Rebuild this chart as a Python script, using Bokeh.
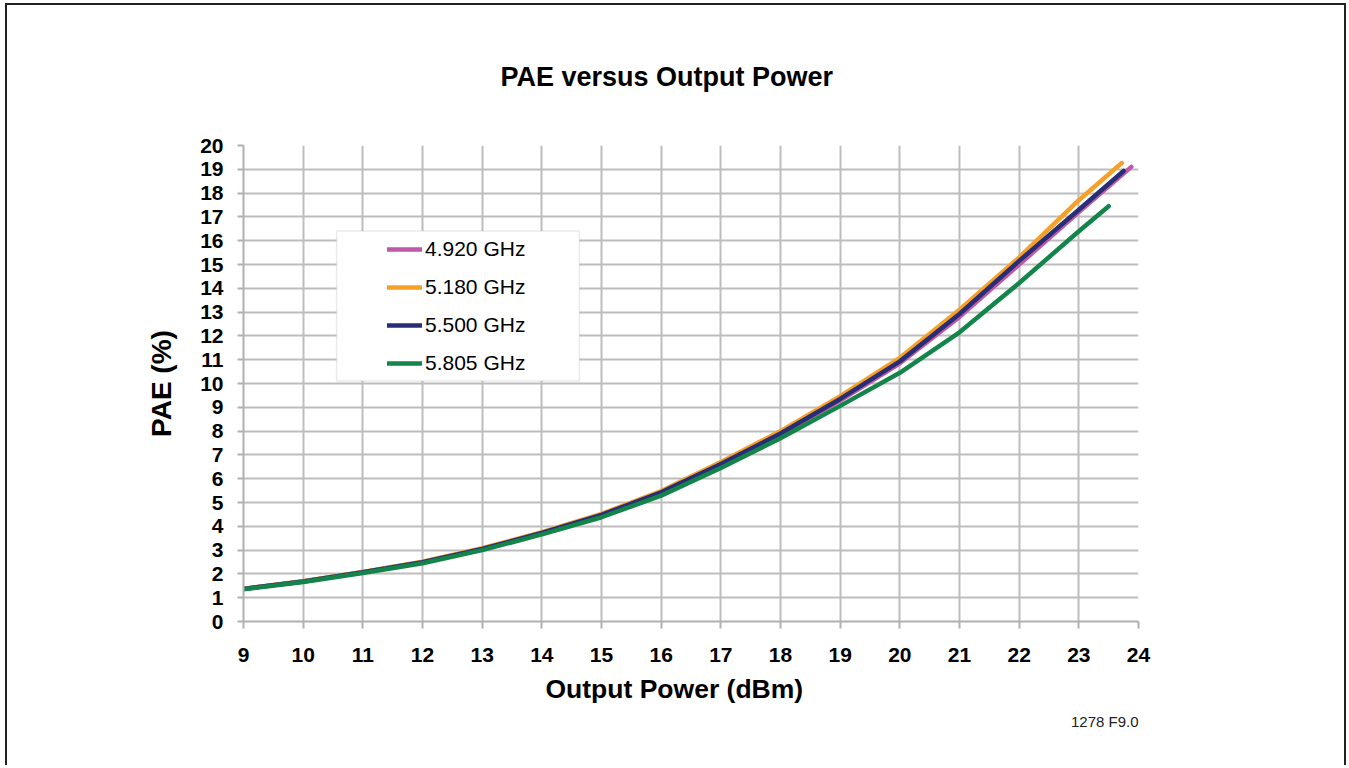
from bokeh.plotting import figure
from bokeh.models import (Legend, LegendItem, BoxAnnotation, FixedTicker,
                          Range1d, Title)
from bokeh.embed import file_html
from bokeh.resources import INLINE

# ---- data ----
x_pts = [9, 10, 11, 12, 13, 14, 15, 16, 17, 18, 19, 20, 21, 22, 23]

pae_4920 = [1.37, 1.68, 2.07, 2.49, 3.05, 3.71, 4.47, 5.41, 6.58, 7.86, 9.28, 10.85, 12.80, 15.00, 17.20]
end_4920 = (23.88, 19.10)

pae_5180 = [1.37, 1.69, 2.08, 2.51, 3.08, 3.75, 4.52, 5.48, 6.70, 8.00, 9.47, 11.08, 13.10, 15.30, 17.70]
end_5180 = (23.72, 19.27)

pae_5500 = [1.37, 1.68, 2.07, 2.49, 3.05, 3.72, 4.48, 5.43, 6.62, 7.90, 9.35, 10.93, 12.92, 15.15, 17.30]
end_5500 = (23.75, 18.93)

pae_5805 = [1.35, 1.66, 2.04, 2.45, 3.00, 3.66, 4.38, 5.29, 6.45, 7.70, 9.06, 10.45, 12.15, 14.22, 16.40]
end_5805 = (23.50, 17.45)

series_names = ["4.920 GHz", "5.180 GHz", "5.500 GHz", "5.805 GHz"]
series_vals = [pae_4920, pae_5180, pae_5500, pae_5805]
series_ends = [end_4920, end_5180, end_5500, end_5805]
series_colors = ["#c058a8", "#f7a028", "#272e76", "#14854a"]

x_ticks = list(range(9, 25))
y_ticks = list(range(0, 21))

FONT = "Liberation Sans"

p = figure(width=1341, height=762, output_backend="svg", toolbar_location=None,
           x_range=Range1d(9, 24), y_range=Range1d(0, 20),
           min_border_left=236, min_border_right=210,
           min_border_top=140, min_border_bottom=146)
p.styles = {"border-top": "2px solid #222222", "border-left": "2px solid #222222",
            "border-right": "2px solid #222222",
            "margin-left": "5px", "margin-top": "3px"}
p.background_fill_color = "white"
p.border_fill_color = "white"
p.outline_line_color = None

# title
p.title = Title(text="PAE versus Output Power", align="left", offset=257,
                standoff=108, text_font=FONT, text_font_style="bold",
                text_font_size="27px", text_color="black")

# grid
for g in (p.xgrid, p.ygrid):
    g.grid_line_color = "#bdbdbd"
    g.grid_line_width = 2
p.xgrid.ticker = FixedTicker(ticks=x_ticks)
p.ygrid.ticker = FixedTicker(ticks=y_ticks)

# axes
for ax in (p.xaxis, p.yaxis):
    ax.axis_line_color = "#b0b0b0"
    ax.axis_line_width = 2
    ax.major_tick_line_color = "#b0b0b0"
    ax.major_tick_line_width = 2
    ax.major_tick_in = 0
    ax.minor_tick_line_color = None
    ax.major_label_text_font = FONT
    ax.major_label_text_font_style = "bold"
    ax.major_label_text_font_size = "21px"
    ax.major_label_text_color = "black"
p.xaxis.ticker = FixedTicker(ticks=x_ticks)
p.yaxis.ticker = FixedTicker(ticks=y_ticks)
p.xaxis.major_tick_out = 7
p.yaxis.major_tick_out = 6
p.xaxis.major_label_standoff = 19
p.yaxis.major_label_standoff = 14

p.yaxis.axis_label = "PAE (%)"
p.yaxis.axis_label_text_font = FONT
p.yaxis.axis_label_text_font_style = "bold"
p.yaxis.axis_label_text_font_size = "28px"
p.yaxis.axis_label_text_color = "black"
p.yaxis.axis_label_standoff = 20

# x axis label and figure code, as titles below the axis
p.add_layout(Title(text="Output Power (dBm)", align="left", offset=302,
                   standoff=14, text_font=FONT, text_font_style="bold",
                   text_font_size="26.5px", text_color="black"), "below")
p.add_layout(Title(text="1278 F9.0", align="right", offset=0,
                   standoff=0, text_font=FONT, text_font_style="normal",
                   text_font_size="15px", text_color="#222222"), "below")

# legend background box
p.add_layout(BoxAnnotation(left=10.56, right=14.63, bottom=10.11, top=16.41,
                           fill_color="white", fill_alpha=1.0,
                           line_color="#b8b8b8", line_width=1.5, level="guide"))

items = []
for name, vals, end, col in zip(series_names, series_vals, series_ends, series_colors):
    xs = x_pts + [end[0]]
    ys = vals + [end[1]]
    r = p.line(xs, ys, line_color=col, line_width=4.5, line_cap="round", line_join="round")
    items.append(LegendItem(label=name, renderers=[r]))

legend = Legend(items=items, location=(144, 246), orientation="vertical",
                padding=0, margin=0, spacing=14,
                glyph_width=35, glyph_height=20, label_height=20, label_standoff=3,
                label_text_font=FONT, label_text_font_size="21px",
                label_text_color="black",
                background_fill_alpha=0, border_line_color=None)
p.add_layout(legend, "center")

open("out.html", "w").write(file_html(p, INLINE))
